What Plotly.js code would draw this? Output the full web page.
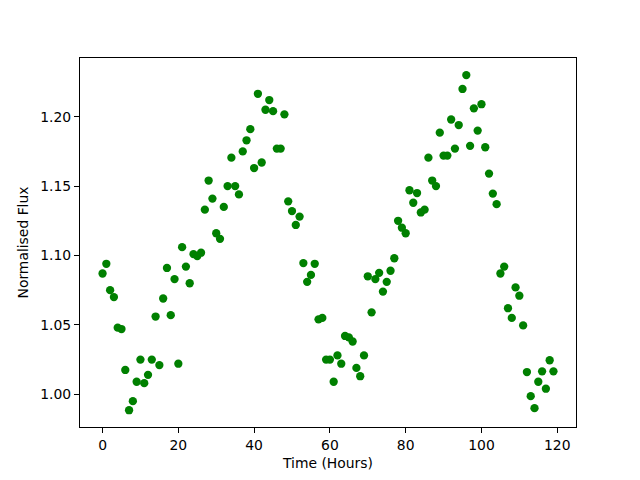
<!DOCTYPE html>
<html>
<head>
<meta charset="utf-8">
<script src="https://cdn.plot.ly/plotly-3.0.1.min.js"></script>
<style>html,body{margin:0;padding:0;background:#fff;}#chart{width:640px;height:480px;}</style>
</head>
<body>
<div id="chart"></div>
<script>
const hours = [0,1,2,3,4,5,6,7,8,9,10,11,12,13,14,15,16,17,18,19,
20,21,22,23,24,25,26,27,28,29,30,31,32,33,34,35,36,37,38,39,
40,41,42,43,44,45,46,47,48,49,50,51,52,53,54,55,56,57,58,59,
60,61,62,63,64,65,66,67,68,69,70,71,72,73,74,75,76,77,78,79,
80,81,82,83,84,85,86,87,88,89,90,91,92,93,94,95,96,97,98,99,
100,101,102,103,104,105,106,107,108,109,110,111,112,113,114,115,116,117,118,119];

const flux = [1.087,1.094,1.075,1.070,1.048,1.047,1.0175,0.9885,0.995,1.009,
1.025,1.008,1.014,1.025,1.056,1.021,1.069,1.091,1.057,1.083,
1.022,1.106,1.092,1.080,1.101,1.0995,1.102,1.133,1.154,1.141,
1.116,1.112,1.135,1.150,1.1705,1.150,1.144,1.175,1.183,1.191,
1.163,1.2165,1.167,1.205,1.212,1.204,1.177,1.177,1.2017,1.139,
1.132,1.122,1.128,1.0945,1.081,1.086,1.094,1.054,1.055,1.025,
1.025,1.009,1.028,1.022,1.042,1.041,1.038,1.019,1.013,1.028,
1.085,1.059,1.083,1.0875,1.074,1.081,1.089,1.098,1.125,1.120,
1.116,1.147,1.138,1.145,1.131,1.133,1.1705,1.154,1.150,1.1885,
1.172,1.172,1.198,1.177,1.194,1.220,1.230,1.179,1.206,1.190,
1.209,1.178,1.159,1.1446,1.137,1.087,1.092,1.062,1.055,1.077,
1.071,1.0496,1.016,0.9986,0.990,1.009,1.0165,1.004,1.0245,1.0165];

const xTicks = [0,20,40,60,80,100,120];
const yTicks = [1.00,1.05,1.10,1.15,1.20];

const font = {family: 'DejaVu Sans', size: 13.9, color: '#000'};

Plotly.newPlot('chart', [{
  x: hours, y: flux, type: 'scatter', mode: 'markers',
  marker: {color: '#008000', size: 8.3, line: {width: 0}},
  hoverinfo: 'skip'
}], {
  width: 640, height: 480,
  margin: {l: 80, r: 64, t: 58, b: 53, pad: 0},
  paper_bgcolor: '#fff', plot_bgcolor: '#fff',
  showlegend: false,
  font: font,
  xaxis: {
    range: [-5.95, 124.95], tickvals: xTicks, ticktext: xTicks.map(String),
    ticks: 'outside', ticklen: 4.9, tickwidth: 1.1, tickcolor: '#000',
    showline: true, linecolor: '#000', linewidth: 1.1, mirror: true,
    showgrid: false, zeroline: false, automargin: false,
    tickfont: font,
    title: {text: 'Time (Hours)', font: font, standoff: 6}
  },
  yaxis: {
    range: [0.9764, 1.2423], tickvals: yTicks, ticktext: yTicks.map(v => v.toFixed(2)),
    ticks: 'outside', ticklen: 4.9, tickwidth: 1.1, tickcolor: '#000',
    showline: true, linecolor: '#000', linewidth: 1.1, mirror: true,
    showgrid: false, zeroline: false, automargin: false,
    tickfont: font,
    title: {text: 'Normalised Flux', font: font, standoff: 8}
  }
}, {staticPlot: true, displayModeBar: false});
</script>
</body>
</html>
